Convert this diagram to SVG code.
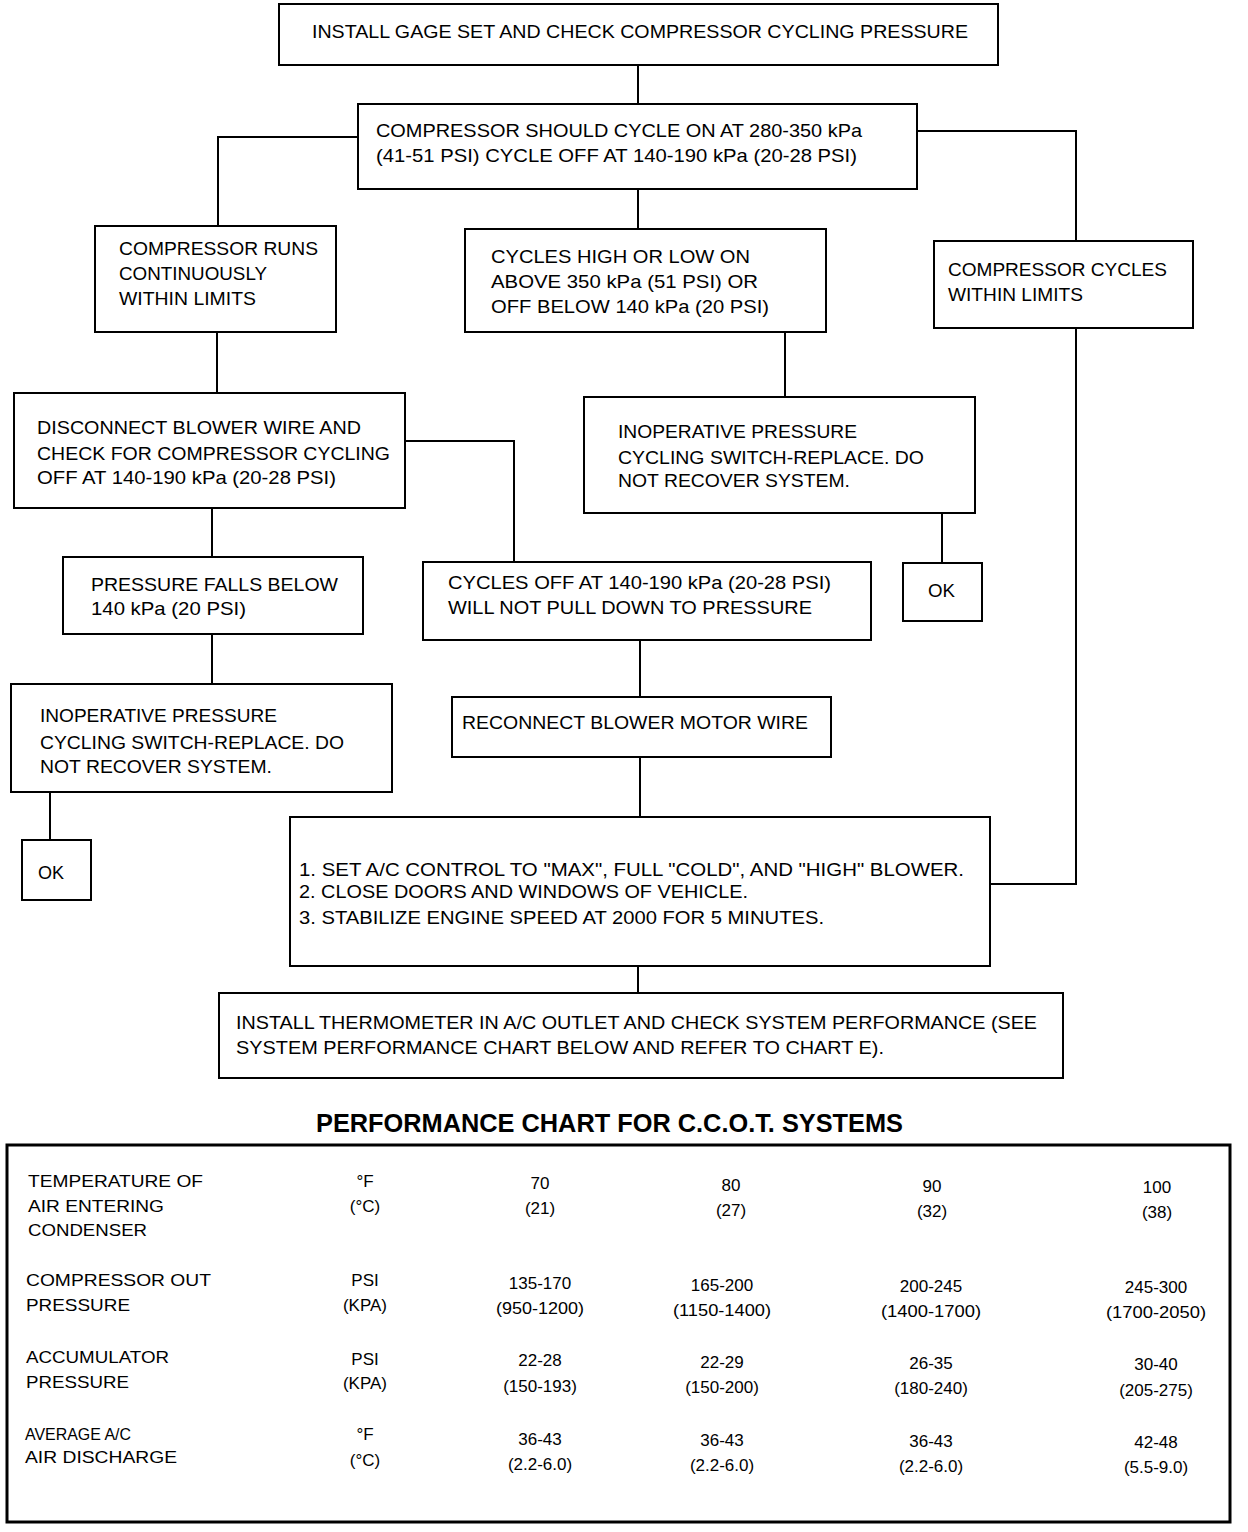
<svg xmlns="http://www.w3.org/2000/svg" width="1248" height="1532" viewBox="0 0 1248 1532">
<style>
.box{fill:#fff;stroke:#000;stroke-width:2}
.c{fill:none;stroke:#000;stroke-width:2}
text{font-family:"Liberation Sans",Arial,sans-serif;font-size:19px;fill:#000}
.t{font-size:17px}
.m{text-anchor:middle}
.title{font-size:25px;font-weight:bold}
</style>
<rect width="1248" height="1532" fill="#fff"/>
<g id="connectors">
<path class="c" d="M638,65 V104"/>
<path class="c" d="M358,137 H218 V226"/>
<path class="c" d="M917,131 H1076 V241"/>
<path class="c" d="M638,189 V229"/>
<path class="c" d="M1076,328 V884 H990"/>
<path class="c" d="M217,332 V393"/>
<path class="c" d="M405,441 H514 V562"/>
<path class="c" d="M212,508 V557"/>
<path class="c" d="M785,332 V397"/>
<path class="c" d="M942,513 V563"/>
<path class="c" d="M212,634 V684"/>
<path class="c" d="M640,640 V697"/>
<path class="c" d="M50,792 V840"/>
<path class="c" d="M640,757 V817"/>
<path class="c" d="M638,966 V993"/>
</g>
<g id="n1"><rect class="box" x="279" y="4" width="719" height="61"/>
<text x="312" y="38" textLength="656" lengthAdjust="spacingAndGlyphs">INSTALL GAGE SET AND CHECK COMPRESSOR CYCLING PRESSURE</text></g>
<g id="n2"><rect class="box" x="358" y="104" width="559" height="85"/>
<text x="376" y="137" textLength="486" lengthAdjust="spacingAndGlyphs">COMPRESSOR SHOULD CYCLE ON AT 280-350 kPa</text>
<text x="376" y="162" textLength="481" lengthAdjust="spacingAndGlyphs">(41-51 PSI) CYCLE OFF AT 140-190 kPa (20-28 PSI)</text></g>
<g id="n3"><rect class="box" x="95" y="226" width="241" height="106"/>
<text x="119" y="255" textLength="199" lengthAdjust="spacingAndGlyphs">COMPRESSOR RUNS</text>
<text x="119" y="280" textLength="148" lengthAdjust="spacingAndGlyphs">CONTINUOUSLY</text>
<text x="119" y="305" textLength="137" lengthAdjust="spacingAndGlyphs">WITHIN LIMITS</text></g>
<g id="n4"><rect class="box" x="465" y="229" width="361" height="103"/>
<text x="491" y="263" textLength="259" lengthAdjust="spacingAndGlyphs">CYCLES HIGH OR LOW ON</text>
<text x="491" y="288" textLength="267" lengthAdjust="spacingAndGlyphs">ABOVE 350 kPa (51 PSI) OR</text>
<text x="491" y="313" textLength="278" lengthAdjust="spacingAndGlyphs">OFF BELOW 140 kPa (20 PSI)</text></g>
<g id="n5"><rect class="box" x="934" y="241" width="259" height="87"/>
<text x="948" y="276" textLength="219" lengthAdjust="spacingAndGlyphs">COMPRESSOR CYCLES</text>
<text x="948" y="301" textLength="135" lengthAdjust="spacingAndGlyphs">WITHIN LIMITS</text></g>
<g id="n6"><rect class="box" x="14" y="393" width="391" height="115"/>
<text x="37" y="434" textLength="324" lengthAdjust="spacingAndGlyphs">DISCONNECT BLOWER WIRE AND</text>
<text x="37" y="460" textLength="353" lengthAdjust="spacingAndGlyphs">CHECK FOR COMPRESSOR CYCLING</text>
<text x="37" y="484" textLength="299" lengthAdjust="spacingAndGlyphs">OFF AT 140-190 kPa (20-28 PSI)</text></g>
<g id="n7"><rect class="box" x="584" y="397" width="391" height="116"/>
<text x="618" y="438" textLength="239" lengthAdjust="spacingAndGlyphs">INOPERATIVE PRESSURE</text>
<text x="618" y="464" textLength="306" lengthAdjust="spacingAndGlyphs">CYCLING SWITCH-REPLACE. DO</text>
<text x="618" y="487" textLength="232" lengthAdjust="spacingAndGlyphs">NOT RECOVER SYSTEM.</text></g>
<g id="n8"><rect class="box" x="903" y="563" width="79" height="58"/>
<text x="928" y="597" textLength="27" lengthAdjust="spacingAndGlyphs">OK</text></g>
<g id="n9"><rect class="box" x="63" y="557" width="300" height="77"/>
<text x="91" y="591" textLength="247" lengthAdjust="spacingAndGlyphs">PRESSURE FALLS BELOW</text>
<text x="91" y="615" textLength="155" lengthAdjust="spacingAndGlyphs">140 kPa (20 PSI)</text></g>
<g id="n10"><rect class="box" x="423" y="562" width="448" height="78"/>
<text x="448" y="589" textLength="383" lengthAdjust="spacingAndGlyphs">CYCLES OFF AT 140-190 kPa (20-28 PSI)</text>
<text x="448" y="614" textLength="364" lengthAdjust="spacingAndGlyphs">WILL NOT PULL DOWN TO PRESSURE</text></g>
<g id="n11"><rect class="box" x="11" y="684" width="381" height="108"/>
<text x="40" y="722" textLength="237" lengthAdjust="spacingAndGlyphs">INOPERATIVE PRESSURE</text>
<text x="40" y="749" textLength="304" lengthAdjust="spacingAndGlyphs">CYCLING SWITCH-REPLACE. DO</text>
<text x="40" y="773" textLength="232" lengthAdjust="spacingAndGlyphs">NOT RECOVER SYSTEM.</text></g>
<g id="n12"><rect class="box" x="22" y="840" width="69" height="60"/>
<text x="38" y="879" textLength="26" lengthAdjust="spacingAndGlyphs">OK</text></g>
<g id="n13"><rect class="box" x="452" y="697" width="379" height="60"/>
<text x="462" y="729" textLength="346" lengthAdjust="spacingAndGlyphs">RECONNECT BLOWER MOTOR WIRE</text></g>
<g id="n14"><rect class="box" x="290" y="817" width="700" height="149"/>
<text x="299" y="876" textLength="665" lengthAdjust="spacingAndGlyphs">1. SET A/C CONTROL TO "MAX", FULL "COLD", AND "HIGH" BLOWER.</text>
<text x="299" y="898" textLength="449" lengthAdjust="spacingAndGlyphs">2. CLOSE DOORS AND WINDOWS OF VEHICLE.</text>
<text x="299" y="924" textLength="525" lengthAdjust="spacingAndGlyphs">3. STABILIZE ENGINE SPEED AT 2000 FOR 5 MINUTES.</text></g>
<g id="n15"><rect class="box" x="219" y="993" width="844" height="85"/>
<text x="236" y="1029" textLength="801" lengthAdjust="spacingAndGlyphs">INSTALL THERMOMETER IN A/C OUTLET AND CHECK SYSTEM PERFORMANCE (SEE</text>
<text x="236" y="1054" textLength="648" lengthAdjust="spacingAndGlyphs">SYSTEM PERFORMANCE CHART BELOW AND REFER TO CHART E).</text></g>
<g id="chart">
<text class="title" x="316" y="1132" textLength="587" lengthAdjust="spacingAndGlyphs">PERFORMANCE CHART FOR C.C.O.T. SYSTEMS</text>
<rect x="7" y="1145" width="1223" height="377" fill="none" stroke="#000" stroke-width="3"/>
<g class="t">
<text class="t" x="28" y="1187" textLength="175" lengthAdjust="spacingAndGlyphs">TEMPERATURE OF</text>
<text class="t" x="28" y="1212" textLength="136" lengthAdjust="spacingAndGlyphs">AIR ENTERING</text>
<text class="t" x="28" y="1236" textLength="119" lengthAdjust="spacingAndGlyphs">CONDENSER</text>
<text class="t m" x="365" y="1187">°F</text>
<text class="t m" x="365" y="1212">(°C)</text>
<text class="t m" x="540" y="1189">70</text>
<text class="t m" x="540" y="1214">(21)</text>
<text class="t m" x="731" y="1191">80</text>
<text class="t m" x="731" y="1216">(27)</text>
<text class="t m" x="932" y="1192">90</text>
<text class="t m" x="932" y="1217">(32)</text>
<text class="t m" x="1157" y="1193">100</text>
<text class="t m" x="1157" y="1218">(38)</text>

<text class="t" x="26" y="1286" textLength="185" lengthAdjust="spacingAndGlyphs">COMPRESSOR OUT</text>
<text class="t" x="26" y="1311" textLength="104" lengthAdjust="spacingAndGlyphs">PRESSURE</text>
<text class="t m" x="365" y="1286">PSI</text>
<text class="t m" x="365" y="1311">(KPA)</text>
<text class="t m" x="540" y="1289">135-170</text>
<text class="t m" x="540" y="1314" textLength="88" lengthAdjust="spacingAndGlyphs">(950-1200)</text>
<text class="t m" x="722" y="1291">165-200</text>
<text class="t m" x="722" y="1316" textLength="98" lengthAdjust="spacingAndGlyphs">(1150-1400)</text>
<text class="t m" x="931" y="1292">200-245</text>
<text class="t m" x="931" y="1317" textLength="100" lengthAdjust="spacingAndGlyphs">(1400-1700)</text>
<text class="t m" x="1156" y="1293">245-300</text>
<text class="t m" x="1156" y="1318" textLength="100" lengthAdjust="spacingAndGlyphs">(1700-2050)</text>

<text class="t" x="26" y="1363" textLength="143" lengthAdjust="spacingAndGlyphs">ACCUMULATOR</text>
<text class="t" x="26" y="1388" textLength="103" lengthAdjust="spacingAndGlyphs">PRESSURE</text>
<text class="t m" x="365" y="1365">PSI</text>
<text class="t m" x="365" y="1389">(KPA)</text>
<text class="t m" x="540" y="1366">22-28</text>
<text class="t m" x="540" y="1392">(150-193)</text>
<text class="t m" x="722" y="1368">22-29</text>
<text class="t m" x="722" y="1393">(150-200)</text>
<text class="t m" x="931" y="1369">26-35</text>
<text class="t m" x="931" y="1394">(180-240)</text>
<text class="t m" x="1156" y="1370">30-40</text>
<text class="t m" x="1156" y="1396">(205-275)</text>

<text class="t" x="25" y="1440" textLength="106" lengthAdjust="spacingAndGlyphs">AVERAGE A/C</text>
<text class="t" x="25" y="1463" textLength="152" lengthAdjust="spacingAndGlyphs">AIR DISCHARGE</text>
<text class="t m" x="365" y="1440">°F</text>
<text class="t m" x="365" y="1466">(°C)</text>
<text class="t m" x="540" y="1445">36-43</text>
<text class="t m" x="540" y="1470">(2.2-6.0)</text>
<text class="t m" x="722" y="1446">36-43</text>
<text class="t m" x="722" y="1471">(2.2-6.0)</text>
<text class="t m" x="931" y="1447">36-43</text>
<text class="t m" x="931" y="1472">(2.2-6.0)</text>
<text class="t m" x="1156" y="1448">42-48</text>
<text class="t m" x="1156" y="1473">(5.5-9.0)</text>
</g>
</g>
</svg>
